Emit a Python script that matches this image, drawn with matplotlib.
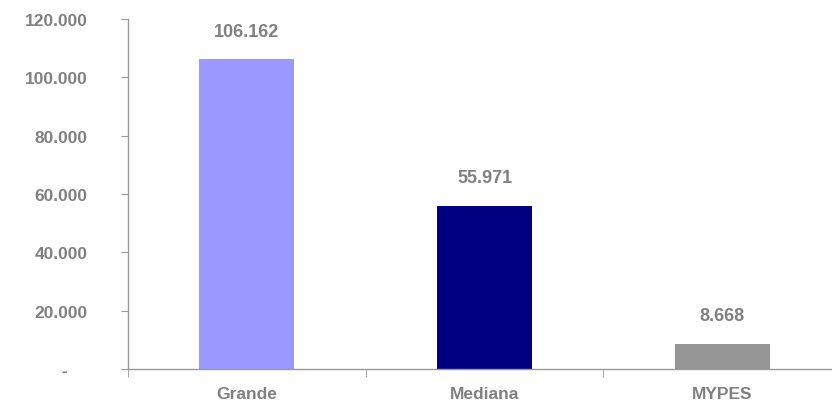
import numpy as np
import matplotlib.pyplot as plt
from matplotlib.ticker import FuncFormatter, FixedLocator

categories = ["Grande", "Mediana", "MYPES"]
values = [106162, 55971, 8668]
colors = ["#9999FF", "#000080", "#969696"]

plt.rcParams['font.family'] = ['Liberation Sans', 'DejaVu Sans']


def miles(v, pos=None):
    if v == 0:
        return "-    "
    return f"{v:,.0f}".replace(",", ".")


fig = plt.figure(figsize=(8.32, 4.06), dpi=100)
ax = fig.add_axes([128 / 832, 36 / 406, 713 / 832, 350 / 406])

x = np.arange(len(categories))
bars = ax.bar(x, values, width=0.4, color=colors, zorder=2)

for b, v in zip(bars, values):
    ax.annotate(miles(v), (b.get_x() + b.get_width() / 2, v),
                xytext=(0, 14), textcoords="offset points",
                ha="center", va="bottom", fontsize=13, fontweight="bold",
                color="#808080")

ax.set_xlim(-0.5, len(categories) - 0.5)
ax.set_ylim(0, 120000)
ax.set_yticks(np.arange(0, 120001, 20000))
ax.yaxis.set_major_formatter(FuncFormatter(miles))

ax.set_xticks(x)
ax.set_xticklabels(categories)
ax.xaxis.set_minor_locator(FixedLocator(np.arange(-0.5, len(categories), 1.0)))

ax.tick_params(axis="x", which="major", length=0, pad=12, labelsize=12.5,
               labelcolor="#808080")
ax.tick_params(axis="x", which="minor", length=6, color="#999999", direction="out")
ax.tick_params(axis="y", length=5, color="#999999", pad=24, labelsize=12.5,
               labelcolor="#808080")
for lab in ax.get_xticklabels() + ax.get_yticklabels():
    lab.set_fontweight("bold")

for s in ["top", "right"]:
    ax.spines[s].set_visible(False)
for s in ["left", "bottom"]:
    ax.spines[s].set_color("#999999")
    ax.spines[s].set_linewidth(1)

fig.savefig("out.png", dpi=100)
